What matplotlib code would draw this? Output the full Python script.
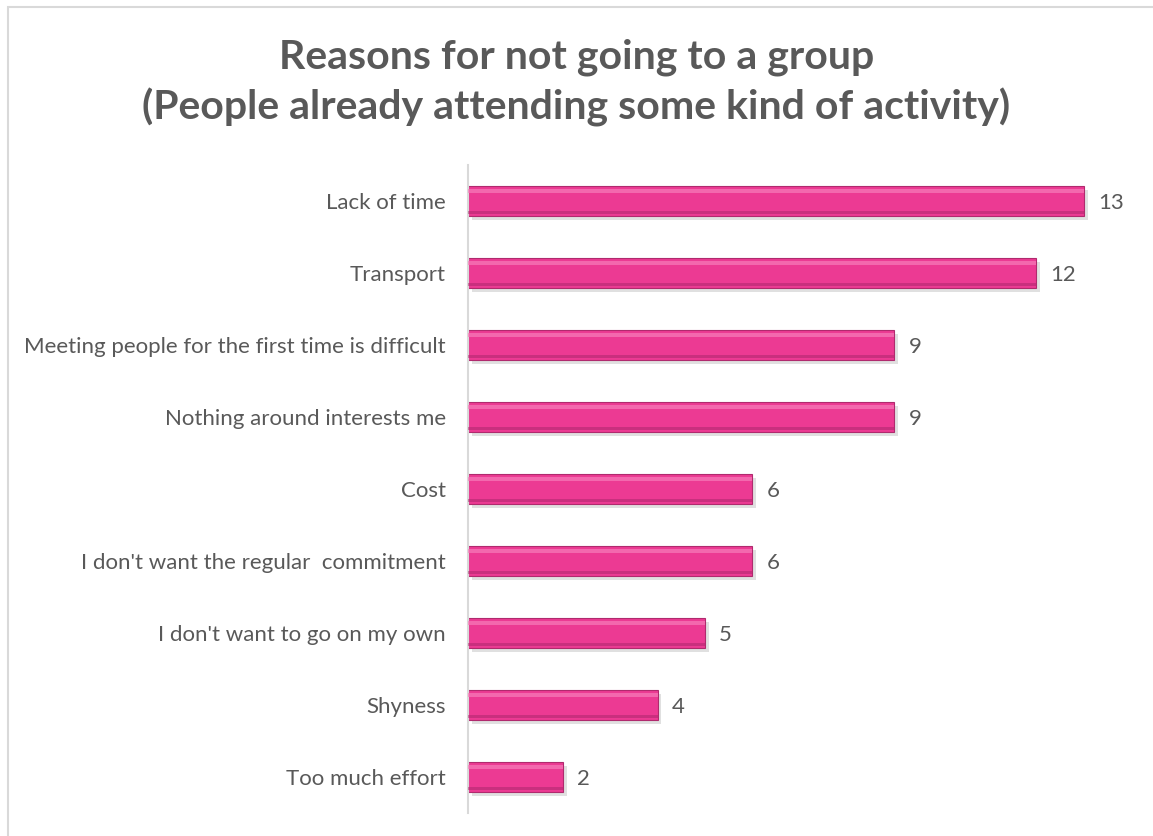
import numpy as np
import matplotlib.pyplot as plt
from matplotlib.patches import Rectangle

reasons = [
    "Lack of time",
    "Transport",
    "Meeting people for the first time is difficult",
    "Nothing around interests me",
    "Cost",
    "I don't want the regular  commitment",
    "I don't want to go on my own",
    "Shyness",
    "Too much effort",
]
counts = [13, 12, 9, 9, 6, 6, 5, 4, 2]

grey = "#595959"
pink = "#EC3A93"

plt.rcParams['font.family'] = ['Lato', 'DejaVu Sans']

fig = plt.figure(figsize=(11.53, 8.36), dpi=100)
ax = fig.add_axes([0.406, 0.0275, 0.575, 0.7751])

y = np.arange(len(reasons))
h = 0.42

# drop shadow, body, then darker lower edge and light top highlight
ax.barh(y + 0.06, counts, height=h, left=0.08, color="#bbbbbb", alpha=0.45, zorder=1)
ax.barh(y, counts, height=h, color=pink, edgecolor="#B02A6E", linewidth=0.8, zorder=2)
ax.barh(y + h * 0.38, counts, height=h * 0.12, color="#A8266A", alpha=0.5, zorder=3)
ax.barh(y - h * 0.33, counts, height=h * 0.12, color="#F77DBA", alpha=0.7, zorder=3)

for yi, c in zip(y, counts):
    ax.text(c + 0.3, yi, str(c), va="center_baseline", ha="left", fontsize=16, color=grey)

ax.set_xlim(0, 14)
ax.set_ylim(len(reasons) - 0.5, -0.5)
ax.set_yticks(y)
ax.set_yticklabels(reasons, fontsize=16, color=grey)
ax.tick_params(axis="y", length=0, pad=16)
ax.set_xticks([])
for s in ["top", "right", "bottom"]:
    ax.spines[s].set_visible(False)
ax.spines["left"].set_color("#d9d9d9")
ax.spines["left"].set_linewidth(1.5)

fig.text(0.5, 0.932, "Reasons for not going to a group", ha="center", va="center",
         fontsize=29.5, fontweight="bold", color=grey)
fig.text(0.5, 0.871, "(People already attending some kind of activity)", ha="center",
         va="center", fontsize=29.5, fontweight="bold", color=grey)

fig.patches.append(Rectangle((8 / 1153, -0.1), 1.2, 1.1 - 7 / 836, transform=fig.transFigure,
                             fill=False, edgecolor="#d9d9d9", linewidth=1.5))

fig.savefig("out.png", dpi=100)
